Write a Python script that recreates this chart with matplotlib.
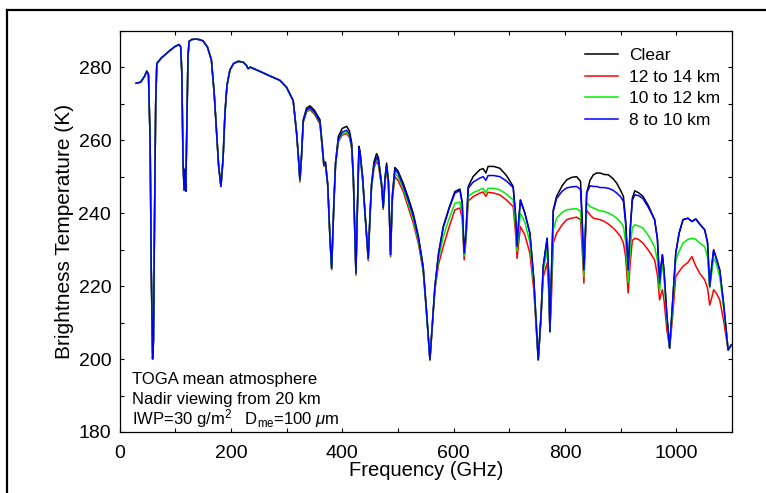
import numpy as np
import matplotlib
matplotlib.use('Agg')
import matplotlib.pyplot as plt
from matplotlib.lines import Line2D
from matplotlib.ticker import MultipleLocator

plt.rcParams['font.family'] = ['Liberation Sans', 'DejaVu Sans']
plt.rcParams['mathtext.fontset'] = 'custom'
plt.rcParams['mathtext.rm'] = 'Liberation Sans'
plt.rcParams['mathtext.it'] = 'Liberation Sans:italic'

# Parte baja del espectro (las cuatro curvas coinciden)
freq_low = [30, 38, 45, 49, 52, 55, 57, 59.5, 61, 63, 65, 67, 75, 90, 100, 107, 110, 112, 114,
            116, 117.5, 119, 121, 123, 125, 130, 138, 145, 150, 158, 165, 170, 174, 178, 182.2,
            186, 189.4, 193, 198.4, 205, 213, 222, 228, 231, 235, 250, 270, 288, 300, 312]
tb_low = [275.6, 275.9, 277.5, 278.9, 278.0, 260, 225, 200.0, 205, 240, 270, 281.0, 282.5, 284.5,
          285.7, 286.2, 285.5, 278, 255, 246.3, 252, 246.0, 265, 283, 287.1, 287.6, 287.7, 287.5,
          287.2, 285.5, 282.0, 273, 262.8, 253, 247.3, 255, 267.4, 275, 279.3, 281.0, 281.6,
          281.4, 280.5, 279.6, 280.0, 279.0, 277.6, 276.4, 274.5, 270.8]

# Parte alta: frecuencia, cielo claro, 8-10 km, 10-12 km, 12-14 km
freq_high = [318, 321, 324, 327, 330, 336, 342, 350, 360, 364, 367, 370, 374, 378, 381, 385, 388,
             393, 400, 408, 413, 417, 420, 422.5, 424.6, 427, 430, 432, 436.6, 441, 446.7, 450,
             452.7, 457, 461.7, 465, 470.7, 473.6, 477, 479.7, 483, 486.8, 490, 494.6, 500, 509.5,
             518, 527.5, 537, 545.4, 551, 557.5, 562, 566.4, 573, 581.4, 592, 602.3, 611.3, 615.5,
             619, 622, 626.3, 635, 647.2, 653, 658, 662, 672, 683, 695, 707, 711, 714, 717, 720,
             728, 737, 744, 752, 757, 761, 768, 771, 773, 776, 779, 785, 795, 803, 812, 821, 828,
             831, 834, 837, 839, 845, 851, 857, 863, 870, 878, 886, 893, 900, 905, 909, 913.5, 917,
             921, 925.5, 932, 940, 950, 961, 966, 970, 973, 975, 978, 983, 988, 993, 999, 1005,
             1012, 1021, 1028, 1035, 1042, 1051, 1056, 1060, 1064, 1067, 1072, 1078, 1085, 1093, 1099]
tb_clear = [262, 256, 249.1, 256, 265.6, 268.8, 269.4, 268.2, 265.6, 259, 253.5, 254.0, 248, 233,
            224.9, 243, 254, 261, 263.2, 263.8, 262.5, 259.2, 250, 235, 223.5, 240, 258.3, 257,
            250, 240, 227.6, 240, 248.2, 254, 256.3, 255.2, 248.2, 241.8, 250, 253.7, 249, 228.6,
            245, 252.5, 251.6, 248.2, 244.5, 240.0, 233.5, 225.4, 214, 199.8, 210, 219.9, 229,
            236.3, 241.5, 245.9, 246.6, 243, 229, 234, 247.3, 250, 251.9, 252.2, 251.0, 252.8,
            252.8, 252.3, 250.3, 247.3, 240, 230.8, 238, 243.6, 240, 234.5, 222, 199.8, 212,
            225.4, 233.1, 222, 207.5, 225, 240.9, 244.6, 247.5, 249.1, 249.8, 250.0, 248.7, 238,
            224.4, 236, 245.5, 249, 250.5, 251.0, 251.0, 250.6, 250.5, 249.5, 248.2, 246.2, 244.6,
            238, 224.4, 235, 244.1, 246.1, 245.6, 244.6, 242.0, 238.2, 233, 220.8, 226, 228.6,
            224, 212, 203, 215, 229, 234.5, 238.2, 238.6, 237.7, 238.4, 237.0, 235.4, 232, 219.9,
            226, 229.9, 227.5, 224.4, 215, 202.5, 203.9]
tb_8_10 = [262, 256, 249.1, 256, 265.3, 268.3, 268.9, 267.7, 265.0, 258.5, 253.2, 253.5, 247.7,
           233, 224.9, 242.7, 253.5, 260.2, 262.2, 262.7, 261.6, 258.5, 249.5, 235, 223.5, 239.8,
           257.7, 256.5, 249.6, 239.8, 227.6, 239.8, 247.8, 253.3, 255.3, 254.4, 247.8, 241.5,
           249.5, 253.0, 248.5, 228.6, 244.5, 252.0, 251.0, 247.5, 243.8, 239.3, 233.0, 225.0,
           213.8, 199.8, 210, 219.8, 228.8, 236.0, 241.2, 245.5, 246.2, 242.6, 229, 234, 246.8,
           248.5, 249.6, 250.0, 249.0, 250.3, 250.3, 250.0, 248.8, 247.0, 240, 230.8, 238, 243.6,
           240, 234.5, 222, 199.8, 212, 225.4, 233.1, 222, 207.5, 225, 240.5, 244.0, 246.0,
           246.9, 247.2, 247.3, 246.5, 237, 224.4, 236, 245.5, 247.5, 247.3, 247.3, 247.0, 247.0,
           246.8, 246.3, 245.5, 244.5, 243.2, 237, 224.4, 235, 243.5, 245.0, 244.8, 244.0, 241.5,
           238.2, 233, 220.8, 226, 228.6, 224, 212, 203, 215, 229, 234.5, 238.2, 238.6, 237.7,
           238.4, 237.0, 235.4, 232, 219.9, 226, 229.9, 227.5, 224.4, 215, 202.5, 203.9]
tb_10_12 = [262, 256, 248.8, 255.8, 265, 268.0, 268.6, 267.4, 264.7, 258.2, 253, 253.2, 247.5, 233,
            224.7, 242.5, 253.2, 259.8, 261.7, 262.1, 261.0, 258.0, 249.2, 235, 223.3, 239.6,
            257.3, 256.2, 249.3, 239.6, 227.3, 239.6, 247.4, 252.8, 254.8, 253.8, 247.4, 241.3,
            249.1, 252.5, 248.1, 228.3, 244.0, 251.0, 250.0, 246.7, 242.8, 238.3, 232.2, 224.5,
            213.5, 199.8, 209.8, 219.3, 227.5, 233.5, 238.5, 242.7, 243.0, 240, 228.3, 233, 244.6,
            245.6, 246.4, 246.8, 245.6, 246.8, 246.8, 246.4, 245.2, 243.6, 237, 229.5, 235, 240.0,
            237.5, 232.0, 220.5, 199.8, 211.5, 224, 230, 220, 207.5, 222, 235.4, 238.6, 240.2,
            240.9, 241.1, 241.2, 240.5, 233, 222.6, 236, 242.8, 241.8, 241.4, 241.0, 240.6, 240.5,
            240.0, 239.4, 238.6, 237.5, 236.3, 232, 221, 230, 236.0, 236.8, 236.5, 235.9, 233.8,
            230.8, 227, 218.5, 224, 226, 222, 211, 203, 213, 227, 229.5, 231.8, 232.8, 233.1,
            232.8, 231.8, 230.8, 228, 219.5, 224, 227.7, 226, 222.5, 214, 202.5, 203.9]
tb_12_14 = [262, 256, 248.5, 255.5, 264.8, 267.8, 268.3, 267.1, 264.4, 258, 252.8, 253, 247.3, 233,
            224.5, 242.3, 253, 259.5, 261.4, 261.8, 260.7, 257.7, 249, 235, 223.0, 239.4, 257,
            256, 249, 239.4, 227.0, 239.4, 247.1, 252.3, 254.2, 253.2, 247, 241.0, 248.7, 252.0,
            247.7, 228, 243.5, 250.0, 249.0, 245.9, 241.8, 237.3, 231.5, 224.0, 213.2, 199.8,
            209.5, 218.8, 226, 230.8, 236.2, 240.9, 241.4, 238.5, 227.2, 232, 243.3, 244.5, 245.5,
            245.8, 244.6, 245.7, 245.5, 245.0, 243.6, 241.8, 235, 227.6, 232, 236.3, 234, 229.0,
            219, 199.8, 211, 222.5, 226.3, 218, 207.5, 218, 231.8, 234.5, 236.8, 238.2, 238.6,
            238.9, 238.2, 230, 220.8, 234, 240.8, 239.5, 238.6, 238.4, 238.2, 237.8, 237.0, 236.0,
            234.9, 233.5, 231.8, 228, 218.1, 226, 232.5, 233.1, 232.8, 231.8, 229.8, 227.2, 223,
            216.2, 218, 219, 216, 208, 203, 211, 222.6, 224, 225.4, 226.5, 228.1, 225.5, 223.5,
            221.7, 219.5, 214.8, 217, 219, 218, 216.2, 210.5, 202.5, 203.9]

labels = ['Clear', '12 to 14 km', '10 to 12 km', '8 to 10 km']
colors = ['black', '#ff0000', '#00ee00', '#0000ff']
series = [tb_clear, tb_12_14, tb_10_12, tb_8_10]

fig = plt.figure(figsize=(7.66, 4.93), dpi=100)
ax = fig.add_axes([119.5 / 766, 61 / 493, 612.5 / 766, 401.3 / 493])

for lab, col, tb in zip(labels, colors, series):
    f = np.concatenate([freq_low, freq_high])
    t = np.concatenate([tb_low, tb])
    ax.plot(f, t, color=col, lw=1.1, label=lab)

ax.set_xlim(0, 1100)
ax.set_ylim(180, 290)
ax.xaxis.set_major_locator(MultipleLocator(200))
ax.xaxis.set_minor_locator(MultipleLocator(100))
ax.yaxis.set_major_locator(MultipleLocator(20))
ax.yaxis.set_minor_locator(MultipleLocator(10))
ax.tick_params(which='both', direction='in', top=True, right=True, length=3, width=0.8,
               labelsize=14)
ax.tick_params(axis='x', pad=9)
ax.tick_params(axis='y', pad=6)
for s in ax.spines.values():
    s.set_linewidth(0.9)

ax.set_xlabel('Frequency (GHz)', fontsize=14.5, labelpad=0)
ax.set_ylabel('Brightness Temperature (K)', fontsize=15, labelpad=3)

ax.legend(loc='upper left', bbox_to_anchor=(0.735, 0.995), frameon=False, fontsize=12.5,
          handlelength=1.9, handletextpad=0.6, labelspacing=0.36)

ax.text(0.02, 0.12, 'TOGA mean atmosphere', transform=ax.transAxes, fontsize=12)
ax.text(0.02, 0.07, 'Nadir viewing from 20 km', transform=ax.transAxes, fontsize=12)
ax.text(0.02, 0.02, r'IWP=30 g/m$^2$   D$_{\mathrm{me}}$=100 $\mu$m', transform=ax.transAxes,
        fontsize=12)

# marco exterior
fig.add_artist(Line2D([7 / 766, 1.0], [483 / 493, 483 / 493], color='black', lw=1.6,
                      transform=fig.transFigure))
fig.add_artist(Line2D([7 / 766, 7 / 766], [0.0, 483 / 493], color='black', lw=1.6,
                      transform=fig.transFigure))

fig.savefig('out.png', dpi=100)
